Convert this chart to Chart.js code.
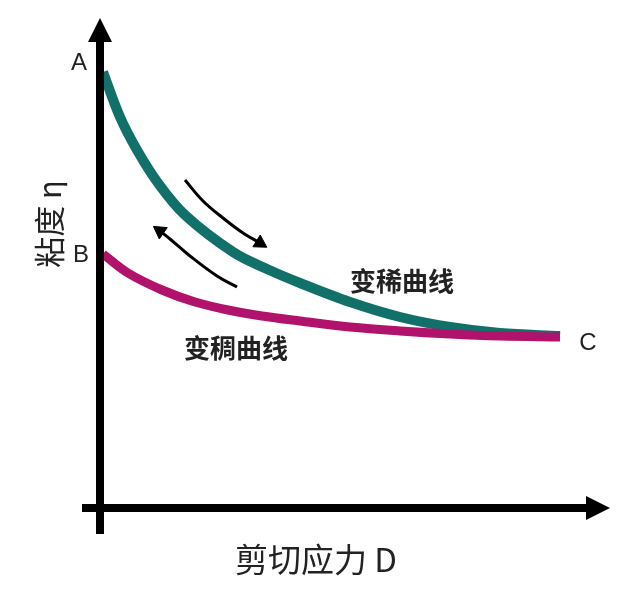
<!DOCTYPE html>
<html>
<head>
<meta charset="utf-8">
<script src="https://cdn.jsdelivr.net/npm/chart.js@4"></script>
<style>
  html, body { margin: 0; padding: 0; background: #fff; }
  #wrap { width: 636px; height: 605px; }
</style>
</head>
<body>
<div id="wrap"><canvas id="chart" width="636" height="605"></canvas></div>
<script>
// 剪切应力 D (x) vs 粘度 η (y), arbitrary units
const thinX = [0.3, 2, 3.7, 5.8, 8.5, 13.3, 16.7, 20, 25, 30, 35, 40, 46];
const thinY = [43.6, 39.1, 35.8, 32.5, 29.3, 25.6, 23.9, 22.5, 20.6, 19.1, 18.1, 17.5, 17.2];
const thickX = [0.3, 2.8, 6.2, 9.5, 12.8, 16.2, 20, 25, 30, 35, 40, 46];
const thickY = [25.4, 23.5, 21.8, 20.6, 19.8, 19.2, 18.7, 18.1, 17.7, 17.4, 17.2, 17.1];
// direction arrows (down = shear increasing, up = shear decreasing)
const downArrowX = [8.5, 10.3, 12.3, 14.3, 16.0];
const downArrowY = [32.8, 30.7, 29.0, 27.5, 26.5];
const upArrowX = [13.7, 11.7, 9.0, 7.0, 6.0];
const upArrowY = [22.1, 23.2, 25.2, 26.9, 27.7];

const labelThin = '变稀曲线';
const labelThick = '变稠曲线';
const xTitle = '剪切应力 D';
const yTitle = '粘度 η';

const pts = (xs, ys) => xs.map((x, i) => ({ x, y: ys[i] }));
const headOnly = (n, v) => Array.from({ length: n }, (_, i) => i === n - 1 ? v : 0);

const TEAL = '#12706a';
const MAGENTA = '#b0126c';
const FONT = '"Noto Sans CJK SC", "Liberation Sans", sans-serif';

const decor = {
  id: 'decor',
  afterDraw(chart) {
    const { ctx, chartArea: a, scales: { x, y } } = chart;
    const x0 = x.getPixelForValue(0), y0 = y.getPixelForValue(0);
    ctx.save();
    ctx.fillStyle = '#000';
    // axes
    ctx.fillRect(x0 - 4, y.getPixelForValue(47), 8, (y0 + 26) - y.getPixelForValue(47));
    ctx.fillRect(x0 - 18, y0 - 4, x.getPixelForValue(49) - (x0 - 18), 8);
    ctx.beginPath();
    ctx.moveTo(x0, a.top); ctx.lineTo(x0 - 12, a.top + 24); ctx.lineTo(x0 + 12, a.top + 24); ctx.closePath(); ctx.fill();
    ctx.beginPath();
    ctx.moveTo(a.right, y0); ctx.lineTo(a.right - 24, y0 - 12); ctx.lineTo(a.right - 24, y0 + 12); ctx.closePath(); ctx.fill();

    // point letters
    ctx.fillStyle = '#222';
    ctx.font = '24px "Liberation Sans", sans-serif';
    ctx.textAlign = 'center'; ctx.textBaseline = 'middle';
    ctx.fillText('A', 79, 63);
    ctx.fillText('B', 81, 255);
    ctx.fillText('C', 588, 343);

    ctx.font = 'bold 26px ' + FONT;
    ctx.fillText(labelThin, 402, 281);
    ctx.fillText(labelThick, 236, 348);

    ctx.font = '33px ' + FONT;
    ctx.fillText(xTitle, 316, 559);

    ctx.translate(49, 224);
    ctx.rotate(-Math.PI / 2);
    ctx.font = '31px ' + FONT;
    ctx.fillText(yTitle, 0, 0);
    ctx.restore();
  }
};

new Chart(document.getElementById('chart'), {
  type: 'line',
  data: {
    datasets: [
      { label: labelThick, data: pts(thickX, thickY), borderColor: MAGENTA, borderWidth: 9,
        tension: 0.35, pointRadius: 0, order: 1 },
      { label: labelThin, data: pts(thinX, thinY), borderColor: TEAL, borderWidth: 10,
        tension: 0.35, pointRadius: 0, order: 2 },
      { label: 'down', data: pts(downArrowX, downArrowY), borderColor: '#000', borderWidth: 3,
        tension: 0.4, pointStyle: 'triangle', pointRadius: headOnly(5, 8), pointRotation: 122,
        pointBackgroundColor: '#000', pointBorderColor: '#000', pointBorderWidth: 1, order: 0 },
      { label: 'up', data: pts(upArrowX, upArrowY), borderColor: '#000', borderWidth: 3,
        tension: 0.4, pointStyle: 'triangle', pointRadius: headOnly(5, 8), pointRotation: 305,
        pointBackgroundColor: '#000', pointBorderColor: '#000', pointBorderWidth: 1, order: 0 }
    ]
  },
  options: {
    responsive: false,
    animation: false,
    clip: false,
    layout: { padding: { left: 100, right: 26, top: 18, bottom: 97 } },
    plugins: { legend: { display: false }, tooltip: { enabled: false } },
    scales: {
      x: { type: 'linear', min: 0, max: 51, display: false },
      y: { type: 'linear', min: 0, max: 49, display: false }
    }
  },
  plugins: [decor]
});
</script>
</body>
</html>
